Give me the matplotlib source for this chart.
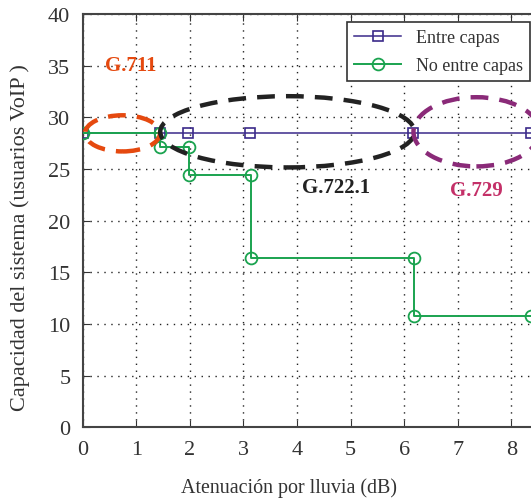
import matplotlib
matplotlib.use("Agg")
import matplotlib.pyplot as plt
from matplotlib.patches import Ellipse

plt.rcParams['font.family'] = ['Liberation Serif', 'DejaVu Serif']

# Series data
entre_x = [0.0, 1.45, 1.96, 3.13, 6.17, 8.37]
entre_y = [28.5, 28.5, 28.5, 28.5, 28.5, 28.5]

no_entre_x = [0.0, 1.45, 1.45, 1.98, 1.98, 3.15, 3.15, 6.18, 6.18, 8.37]
no_entre_y = [28.5, 28.5, 27.1, 27.1, 24.4, 24.4, 16.4, 16.4, 10.8, 10.8]

# Codec regions
codec_names = ["G.711", "G.722.1", "G.729"]
codec_cx = [0.74, 3.82, 7.35]
codec_cy = [28.45, 28.6, 28.6]
codec_w = [1.4, 4.75, 2.35]
codec_h = [3.5, 6.9, 6.7]
codec_ring = ["#e5490f", "#222222", "#8a2a78"]
codec_lx = [0.9, 4.72, 7.35]
codec_ly = [35.1, 23.3, 23.0]
codec_txt = ["#e5490f", "#222222", "#c43068"]

xticks = [0, 1, 2, 3, 4, 5, 6, 7, 8]
yticks = [0, 5, 10, 15, 20, 25, 30, 35, 40]

fig = plt.figure(figsize=(5.31, 5.02), dpi=100)
ax = fig.add_axes([0.156, 0.147, 0.844, 0.823])

ax.plot(entre_x, entre_y, color="#3b2a8a", lw=1.1, marker="s", ms=6.5,
        mfc="none", mec="#3b2a8a", mew=1.2, label="Entre capas", zorder=3)
ax.plot(no_entre_x, no_entre_y, color="#1aa34f", lw=1.4, marker="o", ms=8.5,
        mfc="none", mec="#1aa34f", mew=1.3, label="No entre capas", zorder=3)

for name, cx, cy, w, h, rc, lx, ly, tc in zip(codec_names, codec_cx, codec_cy, codec_w,
                                               codec_h, codec_ring, codec_lx, codec_ly, codec_txt):
    ax.add_patch(Ellipse((cx, cy), w, h, fill=False, edgecolor=rc, lw=3.2,
                         linestyle=(0, (4, 2.5)), zorder=4))
    ax.text(lx, ly, name, color=tc, fontsize=15, fontweight="bold",
            ha="center", va="center", zorder=5)

ax.set_xlim(0, 8.37)
ax.set_ylim(0, 40)
ax.set_xticks(xticks)
ax.set_yticks(yticks)
ax.tick_params(direction="in", labelsize=16, colors="#333333", length=5,
               top=True, pad=9)
ax.grid(True, linestyle=(0, (1, 4)), color="#222222", lw=1.0)
ax.spines["right"].set_visible(False)
for s in ["left", "bottom", "top"]:
    ax.spines[s].set_color("#444444")
    ax.spines[s].set_linewidth(1.5)

ax.set_xlabel("Atenuación por lluvia (dB)", fontsize=14.4, color="#333333")
ax.set_ylabel("Capacidad del sistema (usuarios VoIP )", fontsize=16, color="#333333")
ax.xaxis.set_label_coords(0.46, -0.122)
ax.yaxis.set_label_coords(-0.118, 0.462)

leg = ax.legend(loc="upper right", bbox_to_anchor=(0.998, 0.981), fontsize=13,
                frameon=True, fancybox=False, edgecolor="#333333", framealpha=1,
                handlelength=2.6, borderaxespad=0.0, labelspacing=0.6)
leg.get_frame().set_linewidth(1.2)
for t in leg.get_texts():
    t.set_color("#333333")

fig.savefig("out.png", dpi=100)
